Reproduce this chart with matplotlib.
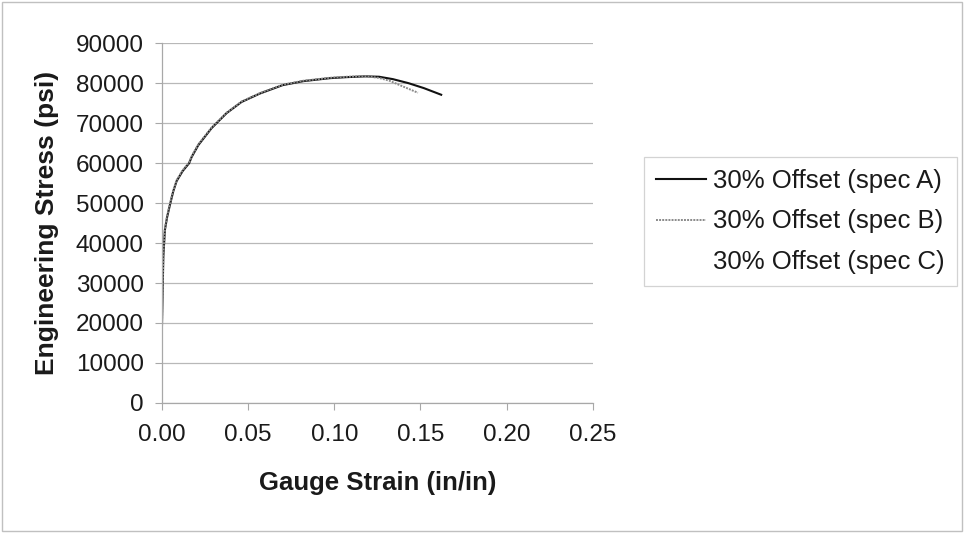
import matplotlib.pyplot as plt

plt.rcParams['font.family'] = ['Liberation Sans', 'DejaVu Sans']

# spec A (black)
strain_a = [0.0000, 0.0004, 0.0008, 0.0017, 0.0030, 0.0046, 0.0066, 0.0085,
            0.0120, 0.0158, 0.0172, 0.0211, 0.0288, 0.0375, 0.0462, 0.0568,
            0.0700, 0.0820, 0.0975, 0.1070, 0.1180, 0.1260, 0.1340, 0.1430,
            0.1520, 0.1620]
stress_a = [19000, 28000, 36600, 43250, 46500, 49500, 53000, 55500,
            58000, 60000, 61500, 64500, 68750, 72500, 75300, 77400,
            79500, 80500, 81250, 81500, 81700, 81600, 81000, 80000,
            78750, 77100]

# spec B (gray)
strain_b = [0.0000, 0.0004, 0.0008, 0.0017, 0.0030, 0.0046, 0.0066, 0.0085,
            0.0120, 0.0158, 0.0172, 0.0211, 0.0288, 0.0375, 0.0462, 0.0568,
            0.0700, 0.0820, 0.0975, 0.1070, 0.1180, 0.1260, 0.1320, 0.1380,
            0.1485]
stress_b = [19500, 29000, 37000, 43500, 46800, 49800, 53200, 55700,
            58200, 60200, 61700, 64700, 68900, 72600, 75400, 77500,
            79600, 80600, 81350, 81600, 81750, 81300, 80600, 79500,
            77600]

# spec C (not visible in the chart)
strain_c = []
stress_c = []

labels = ['30% Offset (spec A)', '30% Offset (spec B)', '30% Offset (spec C)']
x_ticks = [0.00, 0.05, 0.10, 0.15, 0.20, 0.25]
y_ticks = list(range(0, 90001, 10000))

fig = plt.figure(figsize=(9.64, 5.33), dpi=100)
ax = fig.add_axes([0.168, 0.244, 0.447, 0.675])

ax.plot(strain_a, stress_a, color='#111111', lw=1.5, label=labels[0])
ax.plot(strain_b, stress_b, color='#8a8a8a', lw=1.4, ls=(0, (1, 0.6)), label=labels[1])
ax.plot(strain_c, stress_c, color='white', lw=1.3, label=labels[2])

ax.set_xlim(0, 0.25)
ax.set_ylim(0, 90000)
ax.set_xticks(x_ticks)
ax.set_xticklabels(['%.2f' % t for t in x_ticks])
ax.set_yticks(y_ticks)
ax.grid(axis='y', color='#b8b8b8', lw=0.9)
ax.set_axisbelow(True)

for side in ['top', 'right']:
    ax.spines[side].set_visible(False)
for side in ['left', 'bottom']:
    ax.spines[side].set_color('#a8a8a8')
    ax.spines[side].set_linewidth(0.9)

ax.tick_params(axis='both', colors='#a8a8a8', labelcolor='#1a1a1a',
               labelsize=17.5, length=5, width=0.8)
ax.tick_params(axis='x', pad=10)
ax.tick_params(axis='y', pad=8)

ax.set_xlabel('Gauge Strain (in/in)', fontsize=18.5, fontweight='bold',
              color='#1a1a1a', labelpad=18)
ax.set_ylabel('Engineering Stress (psi)', fontsize=19, fontweight='bold',
              color='#1a1a1a', labelpad=12)

leg = fig.legend(loc='upper left', bbox_to_anchor=(0.668, 0.705),
                 fontsize=18.5, frameon=True, fancybox=False,
                 handlelength=1.95, handletextpad=0.3, labelspacing=0.65,
                 borderpad=0.45, borderaxespad=0, edgecolor='#c8c8c8')
leg.get_frame().set_linewidth(0.9)
for t in leg.get_texts():
    t.set_color('#1a1a1a')

# outer chart border
fig.patches.append(plt.Rectangle((0.002, 0.004), 0.996, 0.992, transform=fig.transFigure,
                                 fill=False, edgecolor='#c0c0c0', lw=1.0))

fig.savefig('out.png', dpi=100)
